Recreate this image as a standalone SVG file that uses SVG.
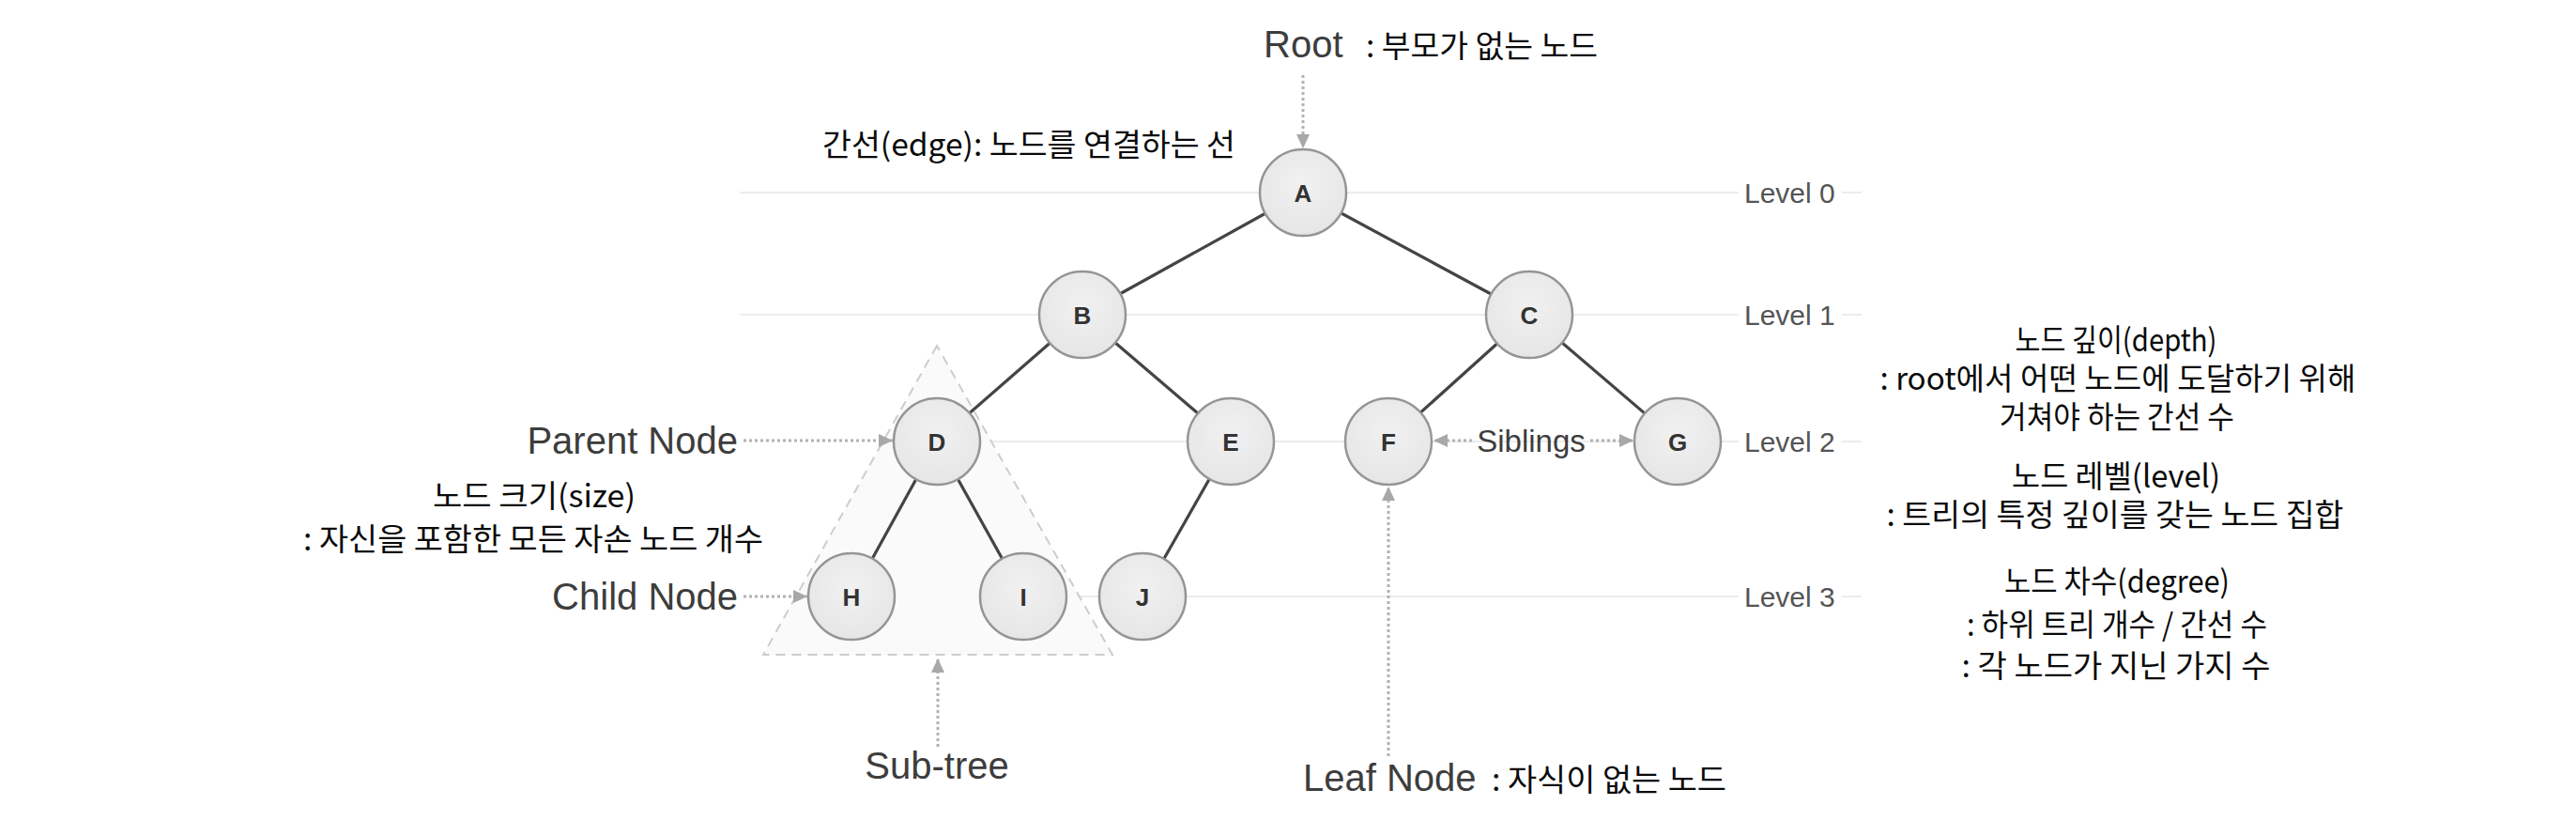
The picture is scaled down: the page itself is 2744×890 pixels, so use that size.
<svg xmlns="http://www.w3.org/2000/svg" width="2744" height="890" viewBox="0 0 2744 890">
<defs>
<radialGradient id="ng" cx="50%" cy="40%" r="60%">
<stop offset="0" stop-color="#f1f1f1"/>
<stop offset="1" stop-color="#e6e6e6"/>
</radialGradient>
<marker id="ah" markerUnits="userSpaceOnUse" markerWidth="16" markerHeight="14" refX="15" refY="7" orient="auto">
<path d="M0,0 L15,7 L0,14 z" fill="#a8a8a8"/>
</marker>
</defs>
<style>
.lvl{stroke:#ececec;stroke-width:2;fill:none}
.edge{stroke:#444;stroke-width:3.2;fill:none}
.dot{stroke:#b2b2b2;stroke-width:3;stroke-dasharray:3 3;fill:none}
.node circle{fill:url(#ng);stroke:#959595;stroke-width:2.5}
.node text{font-family:"Liberation Sans",Arial,sans-serif;font-weight:bold;font-size:26px;fill:#333;text-anchor:middle}
.lab{font-family:"Liberation Sans",Arial,sans-serif;font-size:40px;fill:#3d3d3d}
.lv{font-family:"Liberation Sans",Arial,sans-serif;font-size:30px;fill:#555}
.kr{font-family:"Noto Sans CJK KR","Noto Sans",sans-serif;font-size:33px;fill:#0a0a0a}
.mid{text-anchor:middle}
</style>
<rect width="2744" height="890" fill="#ffffff"/>
<g id="levels">
<line class="lvl" x1="788" y1="205" x2="1852" y2="205"/>
<line class="lvl" x1="1962" y1="205" x2="1983" y2="205"/>
<line class="lvl" x1="788" y1="335" x2="1852" y2="335"/>
<line class="lvl" x1="1962" y1="335" x2="1983" y2="335"/>
<line class="lvl" x1="998" y1="470" x2="1852" y2="470"/>
<line class="lvl" x1="1962" y1="470" x2="1983" y2="470"/>
<line class="lvl" x1="907" y1="635" x2="1852" y2="635"/>
<line class="lvl" x1="1962" y1="635" x2="1983" y2="635"/>
<text class="lv" x="1858" y="216">Level 0</text>
<text class="lv" x="1858" y="346">Level 1</text>
<text class="lv" x="1858" y="481">Level 2</text>
<text class="lv" x="1858" y="646">Level 3</text>
</g>
<g id="subtree">
<polygon points="998,368 813,697 1185,697" fill="#fafafa" stroke="#cdcdcd" stroke-width="2" stroke-dasharray="10 7"/>
</g>
<g id="connectors">
<line class="edge" x1="1388" y1="205" x2="1153" y2="335"/>
<line class="edge" x1="1388" y1="205" x2="1629" y2="335"/>
<line class="edge" x1="1153" y1="335" x2="998" y2="470"/>
<line class="edge" x1="1153" y1="335" x2="1311" y2="470"/>
<line class="edge" x1="1629" y1="335" x2="1479" y2="470"/>
<line class="edge" x1="1629" y1="335" x2="1787" y2="470"/>
<line class="edge" x1="998" y1="470" x2="907" y2="635"/>
<line class="edge" x1="998" y1="470" x2="1090" y2="635"/>
<line class="edge" x1="1311" y1="470" x2="1217" y2="635"/>
<line class="dot" x1="1388" y1="80" x2="1388" y2="158" marker-end="url(#ah)"/>
<line class="dot" x1="792" y1="469" x2="951" y2="469" marker-end="url(#ah)"/>
<line class="dot" x1="792" y1="635" x2="860" y2="635" marker-end="url(#ah)"/>
<line class="dot" x1="999" y1="795" x2="999" y2="701" marker-end="url(#ah)"/>
<line class="dot" x1="1479" y1="805" x2="1479" y2="518" marker-end="url(#ah)"/>
<line class="dot" x1="1568" y1="469" x2="1527" y2="469" marker-end="url(#ah)"/>
<line class="dot" x1="1694" y1="469" x2="1740" y2="469" marker-end="url(#ah)"/>
</g>
<g id="node-A" class="node"><circle cx="1388" cy="205" r="46"/><text x="1388" y="215">A</text></g>
<g id="node-B" class="node"><circle cx="1153" cy="335" r="46"/><text x="1153" y="345">B</text></g>
<g id="node-C" class="node"><circle cx="1629" cy="335" r="46"/><text x="1629" y="345">C</text></g>
<g id="node-D" class="node"><circle cx="998" cy="470" r="46"/><text x="998" y="480">D</text></g>
<g id="node-E" class="node"><circle cx="1311" cy="470" r="46"/><text x="1311" y="480">E</text></g>
<g id="node-F" class="node"><circle cx="1479" cy="470" r="46"/><text x="1479" y="480">F</text></g>
<g id="node-G" class="node"><circle cx="1787" cy="470" r="46"/><text x="1787" y="480">G</text></g>
<g id="node-H" class="node"><circle cx="907" cy="635" r="46"/><text x="907" y="645">H</text></g>
<g id="node-I" class="node"><circle cx="1090" cy="635" r="46"/><text x="1090" y="645">I</text></g>
<g id="node-J" class="node"><circle cx="1217" cy="635" r="46"/><text x="1217" y="645">J</text></g>
<g id="labels">
<text class="lab" x="1346" y="61">Root</text>
<text class="lab" x="786" y="483" text-anchor="end">Parent Node</text>
<text class="lab" x="786" y="649" text-anchor="end">Child Node</text>
<text class="lab mid" x="998" y="829">Sub-tree</text>
<text class="lab" x="1388" y="842">Leaf Node</text>
<text class="lab mid" x="1631" y="481" style="font-size:33px">Siblings</text>
</g>
<g id="notes">
<text class="kr" x="1455" y="61" textLength="247" lengthAdjust="spacingAndGlyphs">: 부모가 없는 노드</text>
<text class="kr" x="876" y="166" textLength="440" lengthAdjust="spacingAndGlyphs">간선(edge): 노드를 연결하는 선</text>
<text class="kr mid" x="2254" y="374" textLength="215" lengthAdjust="spacingAndGlyphs">노드 깊이(depth)</text>
<text class="kr mid" x="2256" y="415" textLength="507" lengthAdjust="spacingAndGlyphs">: root에서 어떤 노드에 도달하기 위해</text>
<text class="kr mid" x="2255" y="456" textLength="250" lengthAdjust="spacingAndGlyphs">거쳐야 하는 간선 수</text>
<text class="kr mid" x="2254" y="519" textLength="222" lengthAdjust="spacingAndGlyphs">노드 레벨(level)</text>
<text class="kr mid" x="2253" y="560" textLength="487" lengthAdjust="spacingAndGlyphs">: 트리의 특정 깊이를 갖는 노드 집합</text>
<text class="kr mid" x="2255" y="631" textLength="240" lengthAdjust="spacingAndGlyphs">노드 차수(degree)</text>
<text class="kr mid" x="2255" y="677" textLength="320" lengthAdjust="spacingAndGlyphs">: 하위 트리 개수 / 간선 수</text>
<text class="kr mid" x="2254" y="721" textLength="329" lengthAdjust="spacingAndGlyphs">: 각 노드가 지닌 가지 수</text>
<text class="kr mid" x="569" y="540" textLength="216" lengthAdjust="spacingAndGlyphs">노드 크기(size)</text>
<text class="kr mid" x="568" y="586" textLength="490" lengthAdjust="spacingAndGlyphs">: 자신을 포함한 모든 자손 노드 개수</text>
<text class="kr" x="1589" y="842" textLength="250" lengthAdjust="spacingAndGlyphs">: 자식이 없는 노드</text>
</g>
</svg>
